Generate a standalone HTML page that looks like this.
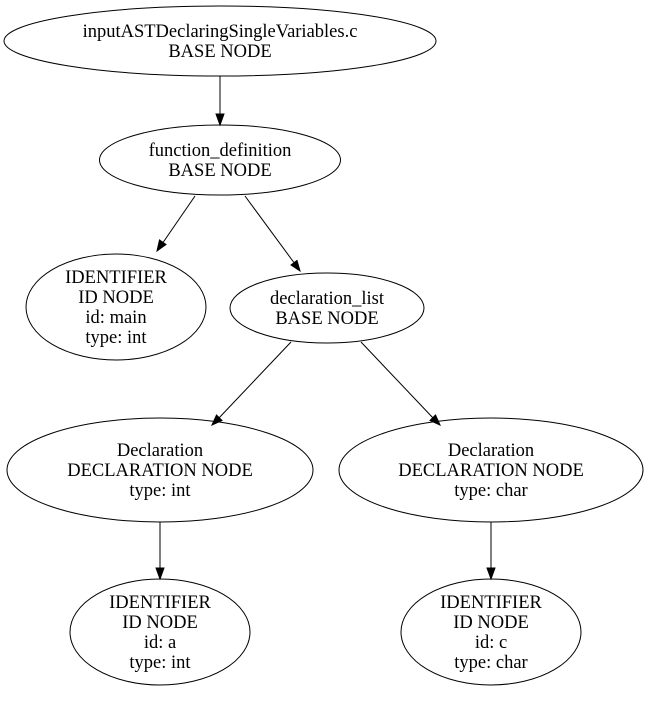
<!DOCTYPE html>
<html><head><style>body{margin:0;background:#fff}</style></head><body>
<svg width="651" height="702" xmlns="http://www.w3.org/2000/svg" font-family="'Liberation Serif', serif" font-size="18.5" text-anchor="middle">
<g fill="none" stroke="#000" stroke-width="1">
<ellipse cx="220" cy="41" rx="216" ry="35"/>
<ellipse cx="220" cy="160" rx="120.5" ry="35"/>
<ellipse cx="116" cy="307" rx="90" ry="53"/>
<ellipse cx="327" cy="308" rx="97" ry="35"/>
<ellipse cx="160" cy="470" rx="153" ry="52"/>
<ellipse cx="491" cy="470" rx="152" ry="52"/>
<ellipse cx="160" cy="632" rx="90" ry="53"/>
<ellipse cx="491" cy="632" rx="90" ry="53"/>
<line x1="220" y1="76" x2="220" y2="115"/>
<line x1="195" y1="196" x2="162" y2="244"/>
<line x1="245" y1="196" x2="295" y2="264"/>
<line x1="291" y1="342" x2="218" y2="419"/>
<line x1="361" y1="342" x2="434" y2="419"/>
<line x1="160" y1="522" x2="160" y2="570"/>
<line x1="491" y1="522" x2="491" y2="570"/>
</g>
<g fill="#000" stroke="#000">
<polygon points="220,125 216,114 224,114"/>
<polygon points="157,251 166,244.5 159.5,240"/>
<polygon points="300,271 291,265 297,260.5"/>
<polygon points="212,425 222,420.5 216.5,415"/>
<polygon points="440,425 430,420.5 435.5,415"/>
<polygon points="160,579 156,568 164,568"/>
<polygon points="491,579 487,568 495,568"/>
</g>
<g fill="#000">
<text x="220" y="37">inputASTDeclaringSingleVariables.c</text>
<text x="220" y="57">BASE NODE</text>
<text x="220" y="156">function_definition</text>
<text x="220" y="176">BASE NODE</text>
<text x="116" y="283">IDENTIFIER</text>
<text x="116" y="303">ID NODE</text>
<text x="116" y="323">id: main</text>
<text x="116" y="343">type: int</text>
<text x="327" y="304">declaration_list</text>
<text x="327" y="324">BASE NODE</text>
<text x="160" y="456">Declaration</text>
<text x="160" y="476">DECLARATION NODE</text>
<text x="160" y="496">type: int</text>
<text x="491" y="456">Declaration</text>
<text x="491" y="476">DECLARATION NODE</text>
<text x="491" y="496">type: char</text>
<text x="160" y="608">IDENTIFIER</text>
<text x="160" y="628">ID NODE</text>
<text x="160" y="648">id: a</text>
<text x="160" y="668">type: int</text>
<text x="491" y="608">IDENTIFIER</text>
<text x="491" y="628">ID NODE</text>
<text x="491" y="648">id: c</text>
<text x="491" y="668">type: char</text>
</g>
</svg>
</body></html>
